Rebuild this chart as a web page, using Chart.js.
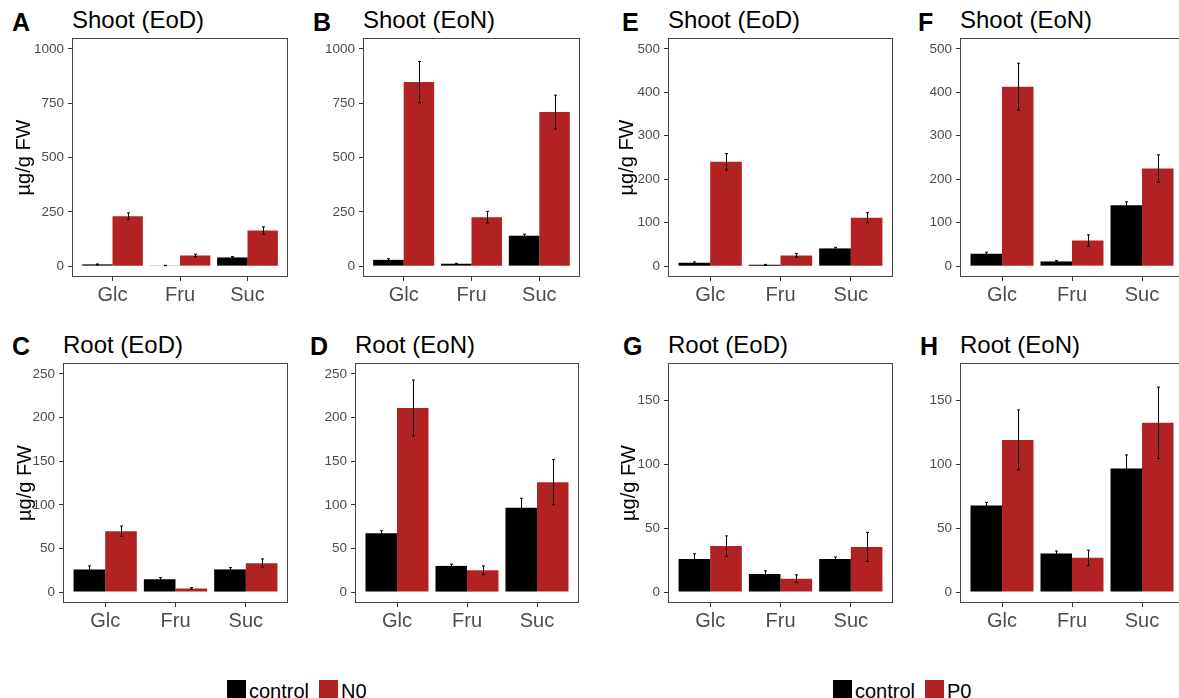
<!DOCTYPE html>
<html lang="en">
<head>
  <meta charset="UTF-8">
  <title>Sugar content, N0 and P0</title>
  <script src="https://cdn.jsdelivr.net/npm/chart.js"></script>
  <style>
    body { margin: 0; background: #fff; width: 1179px; height: 698px; overflow: hidden; position: relative;
           font-family: 'Liberation Sans', Arial, sans-serif; }
    canvas { position: absolute; }
    .title { position: absolute; font-size: 24px; line-height: 24px; color: #000; white-space: nowrap; }
    .letter { position: absolute; font-size: 25px; line-height: 25px; font-weight: bold; color: #000; }
    .legend { position: absolute; top: 678px; display: flex; align-items: flex-end; font-size: 20px; line-height: 20px; }
    .legend .sw { width: 19px; height: 18px; margin-right: 3px; }
    .legend .lb { margin-right: 10px; position: relative; top: 3px; }
  </style>
</head>
<body>

<div class="legend" style="left:227px">
  <div class="sw" style="background:#000"></div><div class="lb">control</div>
  <div class="sw" style="background:#B22222"></div><div class="lb">N0</div>
</div>
<div class="legend" style="left:833px">
  <div class="sw" style="background:#000"></div><div class="lb">control</div>
  <div class="sw" style="background:#B22222"></div><div class="lb">P0</div>
</div>

<script>
  // categorias do eixo x
  const categories = ['Glc', 'Fru', 'Suc'];

  // ticks do eixo y
  const ticksShootN = [0, 250, 500, 750, 1000];
  const ticksShootP = [0, 100, 200, 300, 400, 500];
  const ticksRootN = [0, 50, 100, 150, 200, 250];
  const ticksRootP = [0, 50, 100, 150];

  // A - Shoot (EoD), N
  const aControl = [8, 3, 40];
  const aControlErr = [2, 1, 4];
  const aN0 = [230, 49, 164];
  const aN0Err = [15, 6, 17];

  // B - Shoot (EoN), N
  const bControl = [29, 11, 140];
  const bControlErr = [5, 2, 7];
  const bN0 = [847, 225, 709];
  const bN0Err = [95, 27, 78];

  // C - Root (EoD), N
  const cControl = [26, 14.6, 26];
  const cControlErr = [4, 2, 2];
  const cN0 = [69.6, 4.2, 33];
  const cN0Err = [6, 1, 5];

  // D - Root (EoN), N
  const dControl = [67.3, 30, 96.5];
  const dControlErr = [3, 2, 11];
  const dN0 = [211, 25, 126];
  const dN0Err = [32, 5, 26];

  // E - Shoot (EoD), P
  const eControl = [7.7, 3, 40.8];
  const eControlErr = [2, 1, 2.5];
  const eP0 = [240, 24.6, 111.5];
  const eP0Err = [19, 4, 11.5];

  // F - Shoot (EoN), P
  const fControl = [28.5, 10.8, 140];
  const fControlErr = [3.5, 2, 8];
  const fP0 = [413, 59, 224.6];
  const fP0Err = [54, 13, 31.5];

  // G - Root (EoD), P
  const gControl = [26, 14.2, 26];
  const gControlErr = [4, 2.5, 1.5];
  const gP0 = [36, 10.5, 35.4];
  const gP0Err = [8, 3, 11.4];

  // H - Root (EoN), P
  const hControl = [67.9, 30.2, 96.8];
  const hControlErr = [2.4, 2, 10.7];
  const hP0 = [119.3, 26.8, 132.7];
  const hP0Err = [23.5, 6, 28];

  const RED = '#B22222';
  const X_H = 34;

  // box = [left, top, right, bottom] da área do gráfico
  const panels = [
    { letter: 'A', title: 'Shoot (EoD)', box: [72, 38, 288, 277], yTitle: 48, trtName: 'N0', ctrl: aControl, ctrlErr: aControlErr, trt: aN0, trtErr: aN0Err, ticks: ticksShootN, min: -50, max: 1050 },
    { letter: 'B', title: 'Shoot (EoN)', box: [363, 38, 580, 277], yTitle: 0, trtName: 'N0', ctrl: bControl, ctrlErr: bControlErr, trt: bN0, trtErr: bN0Err, ticks: ticksShootN, min: -50, max: 1050 },
    { letter: 'C', title: 'Root (EoD)', box: [63, 363, 288, 603], yTitle: 38, trtName: 'N0', ctrl: cControl, ctrlErr: cControlErr, trt: cN0, trtErr: cN0Err, ticks: ticksRootN, min: -12.5, max: 262.5 },
    { letter: 'D', title: 'Root (EoN)', box: [355, 363, 579, 603], yTitle: 0, trtName: 'N0', ctrl: dControl, ctrlErr: dControlErr, trt: dN0, trtErr: dN0Err, ticks: ticksRootN, min: -12.5, max: 262.5 },
    { letter: 'E', title: 'Shoot (EoD)', box: [668, 38, 893, 277], yTitle: 41, trtName: 'P0', ctrl: eControl, ctrlErr: eControlErr, trt: eP0, trtErr: eP0Err, ticks: ticksShootP, min: -25, max: 525 },
    { letter: 'F', title: 'Shoot (EoN)', box: [960, 38, 1184, 277], yTitle: 0, trtName: 'P0', ctrl: fControl, ctrlErr: fControlErr, trt: fP0, trtErr: fP0Err, ticks: ticksShootP, min: -25, max: 525 },
    { letter: 'G', title: 'Root (EoD)', box: [668, 363, 893, 603], yTitle: 39, trtName: 'P0', ctrl: gControl, ctrlErr: gControlErr, trt: gP0, trtErr: gP0Err, ticks: ticksRootP, min: -8.6, max: 179.6 },
    { letter: 'H', title: 'Root (EoN)', box: [960, 363, 1184, 603], yTitle: 0, trtName: 'P0', ctrl: hControl, ctrlErr: hControlErr, trt: hP0, trtErr: hP0Err, ticks: ticksRootP, min: -8.6, max: 179.6 }
  ];

  Chart.defaults.font.family = "'Liberation Sans', Arial, sans-serif";

  // barras de erro (média ± erro)
  const errorBars = {
    id: 'errorBars',
    afterDatasetsDraw(chart) {
      const ctx = chart.ctx;
      const y = chart.scales.y;
      ctx.save();
      ctx.strokeStyle = '#000';
      ctx.lineWidth = 1;
      chart.data.datasets.forEach((ds, di) => {
        chart.getDatasetMeta(di).data.forEach((bar, i) => {
          const v = ds.data[i].y, e = ds.errors[i];
          const x = Math.round(bar.x) + 0.5;
          const top = y.getPixelForValue(v + e), bot = y.getPixelForValue(v - e);
          ctx.beginPath();
          ctx.moveTo(x, top); ctx.lineTo(x, bot);
          ctx.moveTo(x - 1.5, top); ctx.lineTo(x + 1.5, top);
          ctx.moveTo(x - 1.5, bot); ctx.lineTo(x + 1.5, bot);
          ctx.stroke();
        });
      });
      ctx.restore();
    }
  };

  // moldura do painel
  const frame = {
    id: 'frame',
    afterDraw(chart) {
      const a = chart.chartArea, ctx = chart.ctx;
      ctx.save();
      ctx.strokeStyle = '#444';
      ctx.lineWidth = 1;
      ctx.strokeRect(a.left + 0.5, a.top + 0.5, a.right - a.left - 1, a.bottom - a.top - 1);
      ctx.restore();
    }
  };

  function addText(cls, text, left, top) {
    const d = document.createElement('div');
    d.className = cls;
    d.textContent = text;
    d.style.left = left + 'px';
    d.style.top = top + 'px';
    document.body.appendChild(d);
  }

  panels.forEach(p => {
    const [l, t, r, b] = p.box;
    const yW = p.yTitle ? p.yTitle + 16 : 50;
    const cv = document.createElement('canvas');
    cv.width = yW + (r - l) + 2;
    cv.height = 2 + (b - t) + X_H;
    cv.style.left = (l - yW) + 'px';
    cv.style.top = (t - 2) + 'px';
    document.body.appendChild(cv);

    const bottomRow = t > 300;
    addText('title', p.title, l, bottomRow ? 333 : 8);
    const letterX = { A: 12, B: 313, C: 12, D: 310, E: 622, F: 918, G: 623, H: 920 }[p.letter];
    addText('letter', p.letter, letterX, bottomRow ? 334 : 10);

    const toXY = arr => arr.map((v, i) => ({ x: i + 1, y: v }));

    new Chart(cv, {
      type: 'bar',
      data: {
        datasets: [
          { label: 'control', data: toXY(p.ctrl), errors: p.ctrlErr, backgroundColor: '#000' },
          { label: p.trtName, data: toXY(p.trt), errors: p.trtErr, backgroundColor: RED }
        ]
      },
      options: {
        responsive: false,
        animation: false,
        layout: { padding: { top: 2, right: 2, left: 0, bottom: 0 } },
        plugins: { legend: { display: false }, tooltip: { enabled: false } },
        datasets: { bar: { categoryPercentage: 0.9, barPercentage: 1, borderWidth: 0 } },
        scales: {
          x: {
            type: 'linear', min: 0.4, max: 3.6, offset: false,
            afterBuildTicks: s => { s.ticks = categories.map((c, i) => ({ value: i + 1 })); },
            afterFit: s => { s.height = X_H; s.paddingLeft = 0; s.paddingRight = 0; },
            ticks: { callback: v => categories[v - 1], color: '#4d4d4d', font: { size: 20 }, padding: 2, autoSkip: false, maxRotation: 0 },
            grid: { offset: false, drawOnChartArea: false, tickLength: 4, color: '#333' },
            border: { display: false }
          },
          y: {
            min: p.min, max: p.max,
            afterBuildTicks: s => { s.ticks = p.ticks.map(v => ({ value: v })); },
            afterFit: s => { s.width = yW; s.paddingTop = 0; s.paddingBottom = 0; },
            ticks: { callback: v => String(v), color: '#4d4d4d', font: { size: 13.5 }, padding: 4 },
            grid: { drawOnChartArea: false, tickLength: 4, color: '#333' },
            border: { display: false },
            title: { display: !!p.yTitle, text: 'µg/g FW', color: '#000', font: { size: 20 }, padding: { top: 4, bottom: 4 } }
          }
        }
      },
      plugins: [errorBars, frame]
    });
  });
</script>
</body>
</html>
